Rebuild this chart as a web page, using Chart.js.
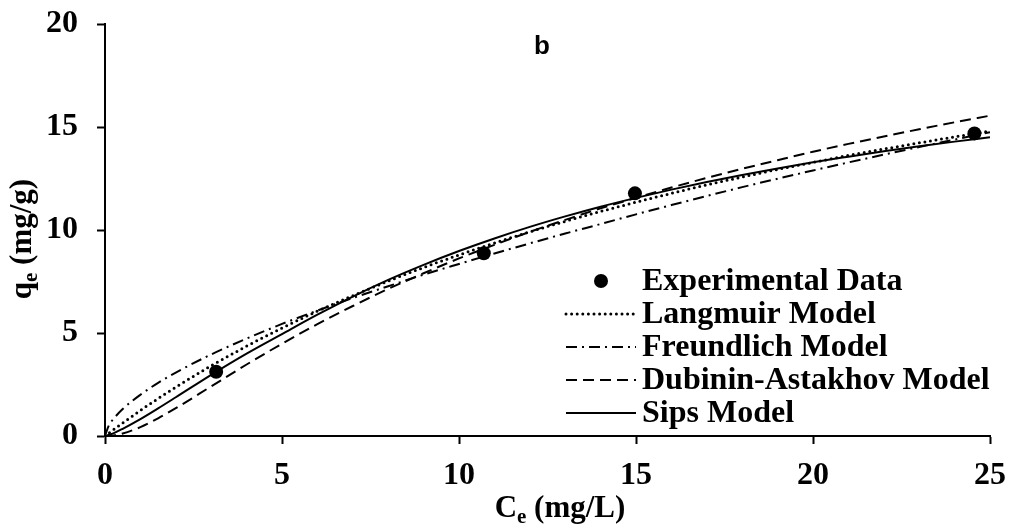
<!DOCTYPE html>
<html>
<head>
<meta charset="utf-8">
<script src="https://cdn.jsdelivr.net/npm/chart.js@4.4.1/dist/chart.umd.min.js"></script>
<style>
  html, body { margin: 0; padding: 0; background: #fff; }
  #wrap { width: 1009px; height: 525px; position: relative; }
</style>
</head>
<body>
<div id="wrap"><canvas id="c" width="1009" height="525"></canvas></div>
<script>
// Measured equilibrium data
const ceExp = [3.14, 10.7, 14.97, 24.56];
const qeExp = [3.12, 8.87, 11.78, 14.69];

// Model curves sampled along Ce (mg/L)
const ceModel = [0, 0.1, 0.25, 0.5, 1, 1.5, 2, 3, 4, 5, 6, 7, 8, 9, 10, 11, 12, 13, 14, 15, 16, 17, 18, 19, 20, 21, 22, 23, 24, 25];
const qLangmuir = [0, 0.13, 0.32, 0.63, 1.24, 1.82, 2.37, 3.41, 4.36, 5.24, 6.06, 6.81, 7.52, 8.18, 8.79, 9.37, 9.91, 10.42, 10.90, 11.35, 11.78, 12.19, 12.57, 12.94, 13.28, 13.62, 13.93, 14.23, 14.52, 14.80];
const qFreundlich = [0, 0.48, 0.85, 1.31, 2.00, 2.58, 3.08, 3.96, 4.73, 5.44, 6.09, 6.70, 7.27, 7.83, 8.35, 8.86, 9.35, 9.83, 10.29, 10.76, 11.21, 11.65, 12.08, 12.49, 12.89, 13.28, 13.66, 14.03, 14.39, 14.75];
const qDubinin = [0, 0.00, 0.03, 0.12, 0.43, 0.86, 1.35, 2.41, 3.47, 4.48, 5.43, 6.31, 7.14, 7.90, 8.62, 9.28, 9.91, 10.49, 11.05, 11.56, 12.06, 12.53, 12.97, 13.39, 13.80, 14.18, 14.54, 14.89, 15.23, 15.55];
const qSips = [0, 0.05, 0.14, 0.35, 0.82, 1.34, 1.88, 2.97, 4.00, 4.95, 5.89, 6.77, 7.58, 8.31, 8.98, 9.59, 10.15, 10.66, 11.13, 11.56, 11.96, 12.33, 12.67, 12.99, 13.29, 13.56, 13.82, 14.06, 14.29, 14.50];

const seriesNames = ['Experimental Data', 'Langmuir Model', 'Freundlich Model', 'Dubinin-Astakhov Model', 'Sips Model'];
const xTicks = [0, 5, 10, 15, 20, 25];
const yTicks = [0, 5, 10, 15, 20];
const panelLabel = 'b';

const serif = "'Liberation Serif', 'Times New Roman', serif";
const sans = "'Liberation Sans', Arial, sans-serif";

const pairs = (xs, ys) => xs.map((x, i) => ({ x: x, y: ys[i] }));

function modelSet(label, values, dash, cap) {
  return {
    label: label,
    data: pairs(ceModel, values),
    showLine: true,
    borderColor: '#000',
    backgroundColor: '#000',
    borderWidth: cap === 'round' ? 3 : 2,
    borderDash: dash,
    borderCapStyle: cap,
    pointRadius: 0,
    pointHoverRadius: 0,
    cubicInterpolationMode: 'monotone',
    order: 1
  };
}

const datasets = [
  {
    label: seriesNames[0],
    data: pairs(ceExp, qeExp),
    showLine: false,
    pointRadius: 7,
    pointBackgroundColor: '#000',
    pointBorderColor: '#000',
    pointBorderWidth: 0,
    order: 0
  },
  modelSet(seriesNames[1], qLangmuir, [0, 5.6], 'round'),
  modelSet(seriesNames[2], qFreundlich, [11, 5, 2, 5], 'butt'),
  modelSet(seriesNames[3], qDubinin, [11, 6], 'butt'),
  modelSet(seriesNames[4], qSips, [], 'butt')
];

// Legend drawn inside the plot, using each dataset's own line style
const insideLegend = {
  id: 'insideLegend',
  afterDraw(chart) {
    const ctx = chart.ctx;
    const textX = 642;
    const rowY = [281, 314, 347, 380, 413];
    ctx.save();
    ctx.font = 'bold 32px ' + serif;
    ctx.fillStyle = '#000';
    ctx.textBaseline = 'middle';
    ctx.textAlign = 'left';
    chart.data.datasets.forEach((ds, i) => {
      const y = rowY[i];
      if (!ds.showLine) {
        ctx.beginPath();
        ctx.arc(601, y, ds.pointRadius, 0, Math.PI * 2);
        ctx.fill();
      } else {
        ctx.save();
        ctx.strokeStyle = ds.borderColor;
        ctx.lineWidth = ds.borderWidth;
        ctx.lineCap = ds.borderCapStyle;
        ctx.setLineDash(ds.borderDash);
        ctx.beginPath();
        ctx.moveTo(566, y);
        ctx.lineTo(636, y);
        ctx.stroke();
        ctx.restore();
      }
      ctx.fillText(ds.label, textX, y + 1);
    });
    ctx.restore();
  }
};

// Axis titles with subscripts, and the panel letter
const axisTitles = {
  id: 'axisTitles',
  afterDraw(chart) {
    const ctx = chart.ctx;
    ctx.save();
    ctx.fillStyle = '#000';
    ctx.textBaseline = 'alphabetic';
    ctx.textAlign = 'left';

    function drawSub(main, sub, rest, cx, baseY) {
      const big = 'bold 31px ' + serif;
      const small = 'bold 21px ' + serif;
      ctx.font = big; const w1 = ctx.measureText(main).width;
      ctx.font = small; const w2 = ctx.measureText(sub).width;
      ctx.font = big; const w3 = ctx.measureText(rest).width;
      let x = cx - (w1 + w2 + w3) / 2;
      ctx.font = big; ctx.fillText(main, x, baseY); x += w1;
      ctx.font = small; ctx.fillText(sub, x, baseY + 6); x += w2;
      ctx.font = big; ctx.fillText(rest, x, baseY);
    }

    drawSub('C', 'e', ' (mg/L)', 560, 517);

    ctx.save();
    ctx.translate(31, 239);
    ctx.rotate(-Math.PI / 2);
    drawSub('q', 'e', ' (mg/g)', 0, 0);
    ctx.restore();

    ctx.font = 'bold 26px ' + sans;
    ctx.textAlign = 'center';
    ctx.fillText(panelLabel, 542, 54);
    ctx.restore();
  }
};

const tickFont = { family: serif, size: 32, weight: 'bold' };

new Chart(document.getElementById('c'), {
  type: 'scatter',
  data: { datasets: datasets },
  options: {
    responsive: false,
    animation: false,
    devicePixelRatio: 1,
    layout: { padding: { top: 24, right: 19, left: 0, bottom: 0 } },
    plugins: {
      legend: { display: false },
      tooltip: { enabled: false },
      title: { display: false }
    },
    scales: {
      x: {
        type: 'linear',
        min: 0,
        max: 25,
        afterBuildTicks(scale) { scale.ticks = xTicks.map(v => ({ value: v })); },
        afterFit(scale) {
          scale.height = 89;
          scale.paddingLeft = 0;
          scale.paddingRight = 0;
        },
        ticks: { font: tickFont, color: '#000', padding: 13, maxRotation: 0 },
        grid: { drawOnChartArea: false, drawTicks: true, tickLength: 8, tickWidth: 2, tickColor: '#000' },
        border: { display: true, color: '#000', width: 2 }
      },
      y: {
        type: 'linear',
        min: 0,
        max: 20,
        afterBuildTicks(scale) { scale.ticks = yTicks.map(v => ({ value: v })); },
        afterFit(scale) {
          scale.width = 105;
          scale.paddingTop = 0;
          scale.paddingBottom = 0;
        },
        ticks: { font: tickFont, color: '#000', padding: 19 },
        grid: { drawOnChartArea: false, drawTicks: true, tickLength: 8, tickWidth: 2, tickColor: '#000' },
        border: { display: true, color: '#000', width: 2 }
      }
    }
  },
  plugins: [insideLegend, axisTitles]
});
</script>
</body>
</html>
